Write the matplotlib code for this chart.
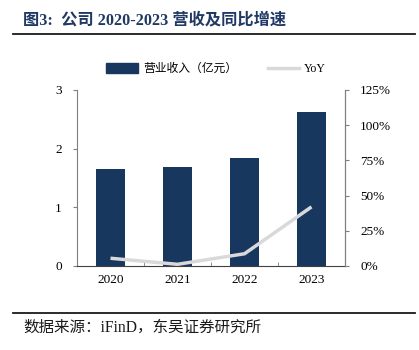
import matplotlib
matplotlib.use("Agg")
import matplotlib.pyplot as plt
from matplotlib.lines import Line2D
from matplotlib.patches import Patch
import numpy as np

years = ["2020", "2021", "2022", "2023"]
revenue = [1.66, 1.68, 1.84, 2.62]          # 营业收入（亿元）
yoy = [5.5, 1.2, 8.7, 42.0]                 # YoY %
left_ticks = [0, 1, 2, 3]
right_ticks = [0, 25, 50, 75, 100, 125]

FAM = ["Liberation Serif", "Noto Sans CJK SC"]
plt.rcParams["font.family"] = FAM

W, H = 419, 350
fig = plt.figure(figsize=(W / 100, H / 100), dpi=100)

navy = "#17375e"
gray = "#d9d9d9"
spine_c = "#7f7f7f"

ax = fig.add_axes([77 / W, 1 - 266 / H, (345 - 77) / W, (266 - 90) / H])
x = np.arange(len(years))
ax.bar(x, revenue, width=0.44, color=navy, zorder=2)
ax.set_xlim(-0.5, len(years) - 0.5)
ax.set_ylim(0, 3)
ax.set_yticks(left_ticks)
ax.set_yticklabels([str(t) for t in left_ticks], fontsize=9.5)
ax.set_xticks(x)
ax.set_xticklabels(years, fontsize=9.5)
ax.tick_params(axis="x", length=0, pad=6)
ax.set_xticks(np.arange(-0.5, len(years), 1), minor=True)
ax.tick_params(axis="x", which="minor", direction="in", length=3, color=spine_c)
ax.tick_params(axis="y", direction="out", length=3, color=spine_c, pad=8)
ax.spines["top"].set_visible(False)
ax.spines["left"].set_color(spine_c)
ax.spines["bottom"].set_color("#404040")
ax.spines["right"].set_color(spine_c)

ax2 = ax.twinx()
ax2.plot(x, yoy, color=gray, lw=2.5, zorder=3, solid_capstyle="butt")
ax2.set_ylim(0, 125)
ax2.set_yticks(right_ticks)
ax2.set_yticklabels([f"{t}%" for t in right_ticks], fontsize=9.5)
ax2.tick_params(axis="y", direction="out", length=3, color=spine_c, pad=8)
for s in ["top", "left", "bottom"]:
    ax2.spines[s].set_visible(False)
ax2.spines["right"].set_color(spine_c)

handles = [Patch(color=navy), Line2D([0], [0], color=gray, lw=2.5)]
leg = fig.legend(handles, ["营业收入（亿元）", "YoY"], loc="center left",
                 bbox_to_anchor=(98 / W, 1 - 69 / H), ncol=2, frameon=False,
                 fontsize=8.5, handlelength=2.7, handleheight=0.9,
                 columnspacing=2.6, handletextpad=0.4, borderpad=0.2)

fig.text(23 / W, 1 - 20 / H, "图3:  公司 2020-2023 营收及同比增速", fontsize=11.7,
         fontweight="bold", color="#1f3864", va="center", ha="left")
fig.add_artist(Line2D([13 / W, 415 / W], [1 - 34 / H, 1 - 34 / H], color="#1a1a1a", lw=1.3))
fig.add_artist(Line2D([13 / W, 415 / W], [1 - 313 / H, 1 - 313 / H], color="#1a1a1a", lw=1.3))
fig.text(23 / W, 1 - 328 / H, "数据来源：iFinD，东吴证券研究所", fontsize=11.2,
         color="#1a1a1a", va="center", ha="left")

fig.savefig("out.png", dpi=100)
